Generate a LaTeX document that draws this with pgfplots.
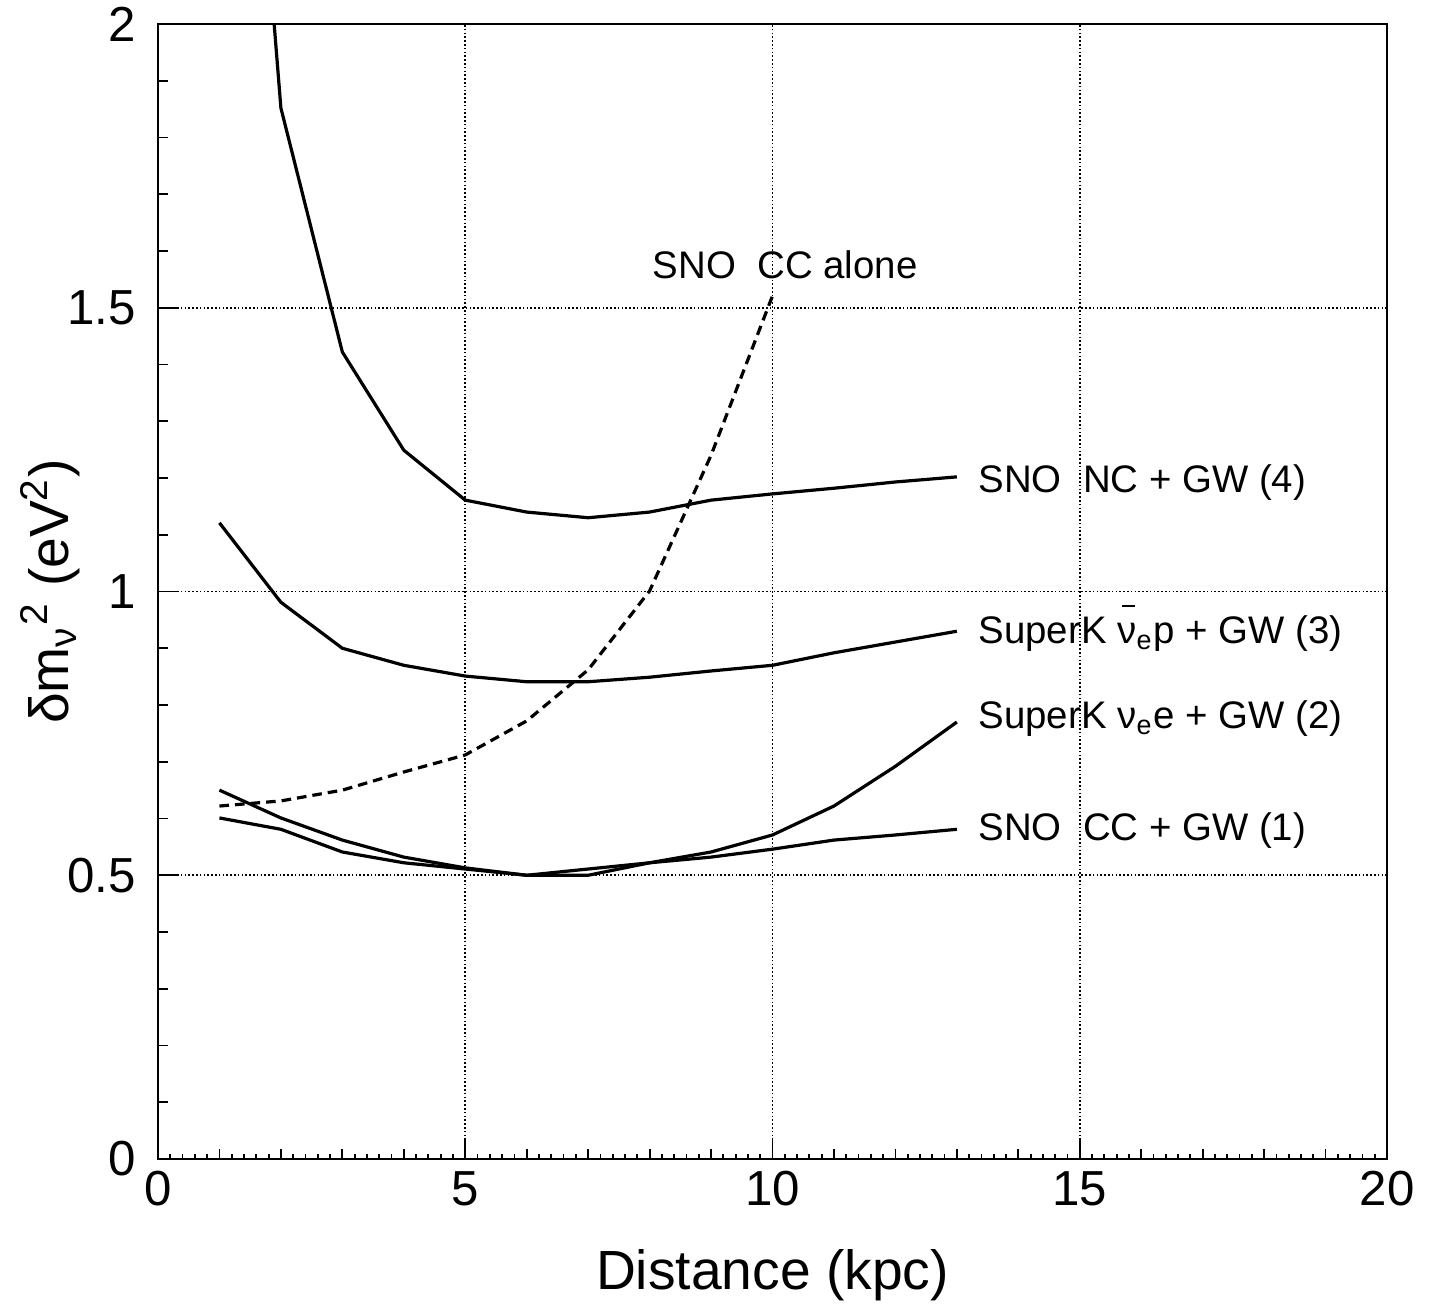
\documentclass[border=0pt]{standalone}
\usepackage{fontspec}
\setmainfont{Liberation Sans}
\usepackage{pgfplots}
\pgfplotsset{compat=1.18}
\newcommand{\nubar}{\makebox[0pt][l]{\hspace{0.13em}\raisebox{0.94em}{\rule{0.32em}{0.045em}}}ν}
\begin{document}
\begin{tikzpicture}
\useasboundingbox (-39.5pt,-37.5pt) rectangle (318.25pt,289.75pt);
\begin{axis}[
  at={(0,0)}, anchor=south west,
  scale only axis, width=307.25pt, height=283.75pt,
  xmin=0, xmax=20, ymin=0, ymax=2,
  xtick={0,5,10,15,20}, ytick={0,0.5,1,1.5,2},
  minor x tick num=24,
  extra x ticks={1,2,3,4,6,7,8,9,11,12,13,14,16,17,18,19},
  extra x tick labels={},
  extra x tick style={grid=none, major tick length=2.5pt},
  extra y ticks={0.1,0.2,0.3,0.4,0.6,0.7,0.8,0.9,1.1,1.2,1.3,1.4,1.6,1.7,1.8,1.9},
  extra y tick labels={},
  extra y tick style={grid=none, major tick length=2.5pt},
  major tick length=4.75pt, minor tick length=1.25pt,
  tick align=inside, tick pos=left,
  axis line style={line width=0.5pt},
  every tick/.style={black, line width=0.45pt},
  xmajorgrids, ymajorgrids,
  major grid style={black, line width=0.4pt, dash pattern=on 0.4pt off 0.55pt},
  /pgf/number format/assume math mode=true,
  ticklabel style={font=\fontsize{12.3}{13}\selectfont},
  yticklabel style={xshift=-2.0pt},
  xticklabel style={yshift=0.5pt},
  xlabel={Distance (kpc)},
  ylabel={δm\textsubscript{ν}\textsuperscript{2} (eV\textsuperscript{2})},
  xlabel style={font=\fontsize{13.8}{15}\selectfont, at={(axis description cs:0.5,-0.102)}, anchor=center},
  ylabel style={font=\fontsize{13.8}{15}\selectfont, at={(axis description cs:-0.088,0.5)}, anchor=center},
  cycle list={{black, no markers}},
  every axis plot post/.append style={line width=0.8pt},
  clip=true,
]
% (4) SNO NC + GW
\addplot coordinates {(1,3.2) (2,1.852) (3,1.422) (4,1.249) (5,1.161) (6,1.140) (7,1.130) (8,1.140) (9,1.161) (10,1.172) (11,1.182) (12,1.193) (13,1.202)};
% (3) SuperK anti-nu_e p + GW
\addplot coordinates {(1,1.121) (2,0.981) (3,0.900) (4,0.870) (5,0.851) (6,0.841) (7,0.841) (8,0.849) (9,0.860) (10,0.870) (11,0.892) (12,0.911) (13,0.930)};
% (2) SuperK nu_e e + GW
\addplot coordinates {(1,0.650) (2,0.601) (3,0.562) (4,0.532) (5,0.513) (6,0.500) (7,0.500) (8,0.522) (9,0.541) (10,0.571) (11,0.622) (12,0.692) (13,0.770)};
% (1) SNO CC + GW
\addplot coordinates {(1,0.601) (2,0.581) (3,0.541) (4,0.522) (5,0.511) (6,0.500) (7,0.511) (8,0.522) (9,0.532) (10,0.546) (11,0.562) (12,0.571) (13,0.581)};
% SNO CC alone
\addplot+[dash pattern=on 2.4pt off 1.5pt] coordinates {(1,0.622) (2,0.631) (3,0.650) (4,0.682) (5,0.712) (6,0.772) (7,0.862) (8,1.001) (9,1.24) (10,1.521)};
\begin{scope}[every node/.style={font=\fontsize{9.6}{11}\selectfont, inner sep=0pt, anchor=base west}]
\node at (axis cs:8.04,1.552) {SNO~~CC alone};
\node at (axis cs:13.34,1.175) {SNO~~NC + GW (4)};
\node at (axis cs:13.34,0.909) {SuperK \nubar\textsubscript{e}p + GW (3)};
\node at (axis cs:13.34,0.759) {SuperK ν\textsubscript{e}e + GW (2)};
\node at (axis cs:13.34,0.562) {SNO~~CC + GW (1)};
\end{scope}
\end{axis}
\end{tikzpicture}
\end{document}
